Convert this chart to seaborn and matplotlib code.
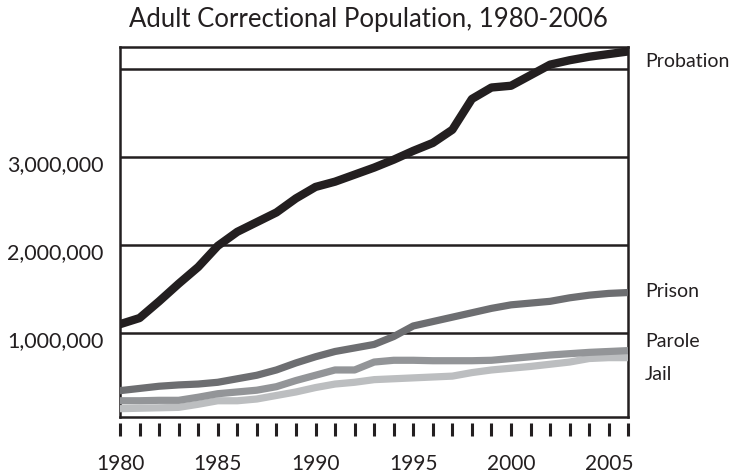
import numpy as np
import pandas as pd
import seaborn as sns
import matplotlib.pyplot as plt
import matplotlib.transforms as mtransforms
from matplotlib.ticker import FuncFormatter

# Values (persons)
years = list(range(1980, 2007))
probation = [1100000, 1170000, 1360000, 1560000, 1750000, 1990000, 2150000, 2260000, 2370000,
             2530000, 2660000, 2720000, 2800000, 2880000, 2970000, 3070000, 3160000, 3310000,
             3660000, 3790000, 3810000, 3930000, 4050000, 4100000, 4140000, 4170000, 4200000]
prison = [345000, 370000, 395000, 410000, 420000, 440000, 480000, 520000, 580000,
          660000, 730000, 790000, 830000, 870000, 960000, 1080000, 1130000, 1180000,
          1230000, 1280000, 1320000, 1340000, 1360000, 1400000, 1430000, 1450000, 1460000]
parole = [230000, 230000, 235000, 235000, 270000, 310000, 330000, 350000, 390000,
          460000, 520000, 580000, 580000, 670000, 690000, 690000, 685000, 685000,
          685000, 690000, 710000, 730000, 750000, 765000, 780000, 790000, 800000]
jail = [140000, 145000, 150000, 155000, 190000, 230000, 230000, 250000, 290000,
        330000, 380000, 420000, 440000, 470000, 480000, 490000, 500000, 510000,
        550000, 580000, 600000, 620000, 645000, 670000, 710000, 720000, 720000]

series_names = ['Jail', 'Parole', 'Prison', 'Probation']
series_colors = ['#bcbec0', '#939598', '#6d6e71', '#231f20']
series_widths = [5.2, 5.2, 5.2, 6.0]

sns.set_style('white')
plt.rcParams['font.family'] = ['Lato', 'DejaVu Sans']

df = pd.DataFrame({'year': years, 'Jail': jail, 'Parole': parole,
                   'Prison': prison, 'Probation': probation})
long_df = df.melt(id_vars='year', var_name='series', value_name='count')

fig = plt.figure(figsize=(7.33, 4.77), dpi=100)
ax = fig.add_axes([120 / 733, 1 - 418.3 / 477, 508.3 / 733, 370 / 477])

for name, color, lw in zip(series_names, series_colors, series_widths):
    sns.lineplot(data=long_df[long_df['series'] == name], x='year', y='count',
                 color=color, linewidth=lw, ax=ax, zorder=3)

ax.set_xlim(1980, 2006)
ax.set_ylim(42000, 4247000)
ax.set_xlabel('')
ax.set_ylabel('')

# y axis: black gridlines, labels without the top one
ax.set_yticks([1000000, 2000000, 3000000, 4000000])
ax.yaxis.set_major_formatter(FuncFormatter(lambda v, p: '' if v >= 4000000 else f'{int(v):,}'))
ax.tick_params(axis='y', length=0, pad=12, labelsize=15.5, labelcolor='#231f20')
ax.grid(axis='y', color='#231f20', linewidth=1.8, zorder=1)
ax.grid(axis='x', visible=False)
offset = mtransforms.ScaledTranslation(0, -0.05, fig.dpi_scale_trans)
for label in ax.get_yticklabels():
    label.set_transform(label.get_transform() + offset)

for s in ax.spines.values():
    s.set_visible(True)
    s.set_color('#231f20')
    s.set_linewidth(1.8)

# x axis: ticks every year, detached from the frame
ax.tick_params(axis='x', length=0, labelbottom=False)
sec = ax.secondary_xaxis(-6 / 370)
for s in sec.spines.values():
    s.set_visible(False)
sec.set_xticks(years)
sec.xaxis.set_major_formatter(FuncFormatter(lambda v, p: str(int(round(v))) if int(round(v)) % 5 == 0 else ''))
sec.tick_params(axis='x', direction='out', length=9.5, width=2.2, color='#231f20',
                pad=12, labelsize=15, labelcolor='#231f20')

# series labels at the right
label_y = {'Probation': 4100000, 'Prison': 1480000, 'Parole': 910000, 'Jail': 545000}
for name in series_names:
    ax.annotate(name, xy=(2006, label_y[name]), xytext=(12, 0), textcoords='offset points',
                va='center', ha='left', fontsize=14, color='#231f20', annotation_clip=False)

fig.text(368.5 / 733, 1 - 20 / 477, 'Adult Correctional Population, 1980-2006',
         ha='center', va='center', fontsize=18.5, color='#231f20')

fig.savefig('out.png', dpi=100)
